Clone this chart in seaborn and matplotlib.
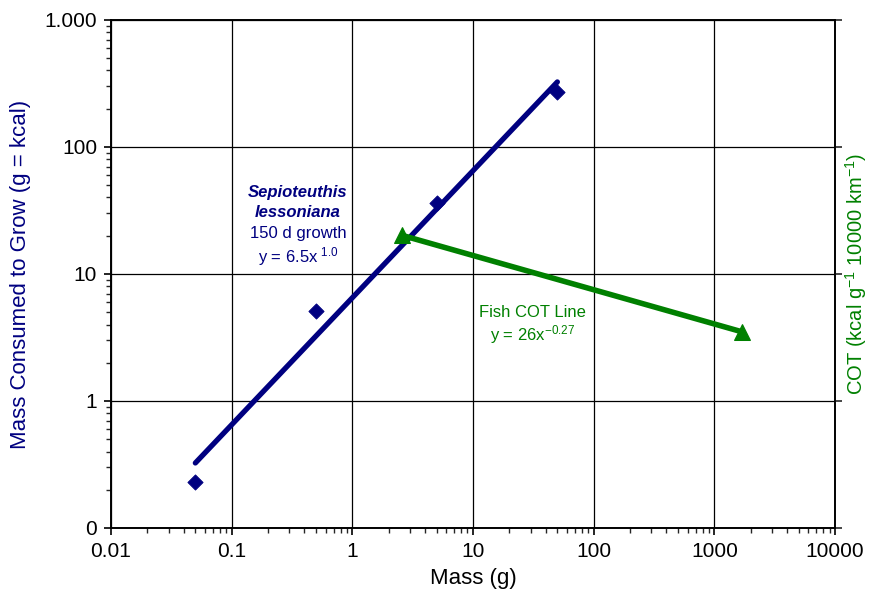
import numpy as np
import pandas as pd
import seaborn as sns
import matplotlib.pyplot as plt
from matplotlib.ticker import FixedLocator, FixedFormatter, NullFormatter, LogLocator

# squid growth data
mass_g = [0.05, 0.5, 5, 50]
consumed_kcal = [0.23, 5.1, 36, 270]
# fitted power law y = 6.5 x^1.0 (end points)
fit_mass = [0.05, 50]
fit_consumed = [0.325, 325]
# fish cost of transport line y = 26 x^-0.27 (end points)
cot_mass = [2.6, 1700]
cot_value = [20.1, 3.5]

x_ticks = [0.01, 0.1, 1, 10, 100, 1000, 10000]
x_labels = ['0.01', '0.1', '1', '10', '100', '1000', '10000']
y_ticks = [0.1, 1, 10, 100, 1000]
y_labels = ['0', '1', '10', '100', '1.000']

navy = '#000080'
green = '#008000'

sns.set_style('ticks')
plt.rcParams['font.family'] = ['Liberation Sans', 'DejaVu Sans']
plt.rcParams['mathtext.fontset'] = 'custom'
plt.rcParams['mathtext.rm'] = 'Liberation Sans'
plt.rcParams['mathtext.default'] = 'regular'

fig = plt.figure(figsize=(8.7, 5.97), dpi=100)
ax = fig.add_axes([0.1276, 0.1156, 0.8322, 0.851])
ax2 = ax.twinx()

squid = pd.DataFrame({'mass': mass_g, 'kcal': consumed_kcal})
fit = pd.DataFrame({'mass': fit_mass, 'kcal': fit_consumed})
fish = pd.DataFrame({'mass': cot_mass, 'cot': cot_value})

for a in (ax, ax2):
    a.set_xscale('log')
    a.set_yscale('log')
    a.set_xlim(0.01, 10000)
    a.set_ylim(0.1, 1000)

sns.lineplot(data=fit, x='mass', y='kcal', ax=ax, color=navy, linewidth=3.8,
             solid_capstyle='round', zorder=3)
sns.scatterplot(data=squid, x='mass', y='kcal', ax=ax, marker='D', s=60,
                color=navy, edgecolor=navy, zorder=4)
sns.lineplot(data=fish, x='mass', y='cot', ax=ax2, color=green, linewidth=4,
             marker='^', markersize=11, markeredgecolor=green, zorder=5)

# left / bottom axis
ax.yaxis.set_major_locator(FixedLocator(y_ticks))
ax.yaxis.set_major_formatter(FixedFormatter(y_labels))
ax.yaxis.set_minor_locator(LogLocator(base=10, subs=np.arange(2, 10)))
ax.yaxis.set_minor_formatter(NullFormatter())
ax.xaxis.set_major_locator(FixedLocator(x_ticks))
ax.xaxis.set_major_formatter(FixedFormatter(x_labels))
ax.xaxis.set_minor_locator(LogLocator(base=10, subs=np.arange(2, 10)))
ax.xaxis.set_minor_formatter(NullFormatter())
ax.tick_params(axis='both', which='major', labelsize=15, length=5, width=1.2,
               color='black', labelcolor='black', direction='out', pad=5)
ax.tick_params(axis='both', which='minor', length=3.5, width=1, direction='out')
ax.grid(True, which='major', color='black', linewidth=0.9)
ax.set_xlabel('Mass (g)', fontsize=16, color='black', labelpad=5)
ax.set_ylabel('Mass Consumed to Grow (g = kcal)', fontsize=16, color=navy, labelpad=10)

# right axis
ax2.yaxis.set_major_locator(FixedLocator(y_ticks))
ax2.yaxis.set_minor_locator(FixedLocator([]))
ax2.yaxis.set_major_formatter(NullFormatter())
ax2.tick_params(axis='y', which='major', length=5, width=1.2, direction='out')
ax2.set_ylabel('COT (kcal g$^{-1}$ 10000 km$^{-1}$)', fontsize=14.5, color=green, labelpad=-3)
ax2.set_xlabel('')

for a in (ax, ax2):
    for s in a.spines.values():
        s.set_visible(True)
        s.set_color('black')
        s.set_linewidth(1.2)

ax.text(0.355, 44, 'Sepioteuthis', color=navy, fontsize=12, fontweight='bold',
        fontstyle='italic', ha='center', va='center')
ax.text(0.355, 30.5, 'lessoniana', color=navy, fontsize=12, fontweight='bold',
        fontstyle='italic', ha='center', va='center')
ax.text(0.355, 20.8, '150 d growth', color=navy, fontsize=12, ha='center', va='center')
ax.text(0.355, 13.8, 'y = 6.5x$^{\\ 1.0}$', color=navy, fontsize=12, ha='center', va='center')

ax.text(31, 5.0, 'Fish COT Line', color=green, fontsize=12, ha='center', va='center')
ax.text(31, 3.35, 'y = 26x$^{-0.27}$', color=green, fontsize=12, ha='center', va='center')

fig.savefig('out.png', dpi=100)
